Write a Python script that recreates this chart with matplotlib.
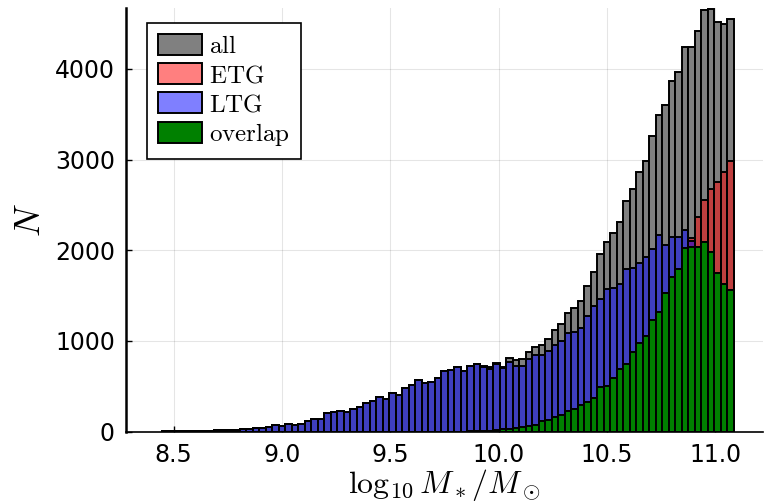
import numpy as np
import matplotlib.pyplot as plt

plt.rcParams['mathtext.fontset'] = 'cm'

# histogram counts per bin (bins 0.03 wide, centred on 8.46 ... 11.07)
n_all = [1, 2, 2, 4, 5, 7, 9, 10, 12, 15, 18, 20, 24, 28, 34, 42, 45,
         72, 61, 83, 68, 83, 120, 142, 142, 200, 215, 230, 215, 252, 274, 311, 336,
         381, 362, 421, 403, 480, 513, 568, 532, 543, 590, 668, 675, 708, 664, 720, 745,
         720, 715, 753, 715, 815, 789, 797, 877, 936, 951, 1017, 1120, 1183, 1308,
         1360, 1440, 1609, 1764, 1959, 2095, 2187, 2316, 2544, 2680, 2857, 2986,
         3254, 3492, 3600, 3861, 3960, 4241, 4241, 4413, 4652, 4660, 4512, 4498, 4553]

n_ltg = [1, 2, 2, 4, 5, 7, 9, 10, 12, 15, 18, 20, 24, 28, 34, 42, 45,
         72, 61, 83, 68, 83, 120, 142, 142, 200, 215, 230, 215, 252, 274, 311, 336,
         381, 362, 421, 403, 480, 513, 568, 532, 543, 590, 668, 675, 708, 664, 720, 745,
         712, 690, 740, 697, 767, 723, 723, 804, 841, 841, 892, 951, 1002, 1082,
         1101, 1139, 1275, 1385, 1462, 1576, 1584, 1625, 1790, 1801, 1863, 1923,
         2014, 2166, 2058, 2143, 2143, 2224, 2103, 2040, 2088, 1978, 1746, 1625, 1562]

n_overlap = [0, 0, 0, 0, 0, 0, 0, 0, 0, 0, 0, 0, 0, 0, 0, 0, 0,
             0, 0, 0, 0, 0, 0, 0, 0, 0, 0, 0, 0, 0, 0, 0, 0,
             0, 0, 0, 0, 0, 0, 0, 0, 0, 0, 0, 0, 0, 0, 2, 4,
             6, 10, 15, 25, 30, 40, 55, 60, 75, 116, 123, 164, 178, 222,
             248, 292, 322, 373, 494, 506, 594, 686, 745, 881, 980, 1054,
             1231, 1322, 1532, 1709, 1797, 2022, 2040, 2040, 2088, 1978, 1746, 1625, 1562]

n_etg = [0, 0, 0, 0, 0, 0, 0, 0, 0, 0, 0, 0, 0, 0, 0, 0, 0,
         0, 0, 0, 0, 0, 0, 0, 0, 0, 0, 0, 0, 0, 0, 0, 0,
         0, 0, 0, 0, 0, 0, 0, 0, 0, 0, 0, 0, 0, 0, 2, 4,
         6, 10, 15, 25, 30, 40, 55, 60, 75, 116, 123, 164, 178, 222,
         248, 292, 322, 373, 494, 506, 594, 686, 745, 881, 980, 1054,
         1231, 1322, 1532, 1709, 1797, 2022, 2139, 2371, 2555, 2673, 2757, 2864, 2986]

bin_width = 0.03
centers = np.round(8.46 + bin_width * np.arange(len(n_all)), 3)

fig, ax = plt.subplots(figsize=(7.64, 5.03), dpi=100)
fig.subplots_adjust(left=0.165, right=0.9987, bottom=0.142, top=0.984)

kw = dict(width=bin_width, edgecolor='black', linewidth=1.4)
ax.bar(centers, n_all, color='gray', label=r'$\mathrm{all}$', **kw)
ax.bar(centers, n_etg, color=(1, 0, 0, 0.5), label=r'$\mathrm{ETG}$', **kw)
ax.bar(centers, n_ltg, color=(0, 0, 1, 0.5), label=r'$\mathrm{LTG}$', **kw)
ax.bar(centers, n_overlap, color='green', label=r'$\mathrm{overlap}$', **kw)

ax.set_xlim(8.28, 11.22)
ax.set_ylim(0, 4670)
ax.set_xticks([8.5, 9.0, 9.5, 10.0, 10.5, 11.0])
ax.set_xticklabels(['8.5', '9.0', '9.5', '10.0', '10.5', '11.0'])
ax.set_yticks([0, 1000, 2000, 3000, 4000])

ax.set_axisbelow(True)
ax.grid(True, color='black', alpha=0.1, linewidth=0.8)
ax.spines['top'].set_visible(False)
ax.spines['right'].set_visible(False)
ax.spines['left'].set_linewidth(1.8)
ax.spines['bottom'].set_linewidth(1.2)
ax.tick_params(direction='in', length=4, width=1, labelsize=17, pad=8)

ax.set_xlabel(r'$\log_{10} M_*/M_\odot$', fontsize=23, labelpad=0)
ax.set_ylabel(r'$N$', fontsize=26, labelpad=6)

leg = ax.legend(loc='upper left', bbox_to_anchor=(0.033, 0.965), borderaxespad=0,
                fontsize=18, fancybox=False, edgecolor='black', framealpha=1,
                handlelength=1.76, handleheight=0.88, handletextpad=0.27,
                labelspacing=0.2, borderpad=0.45)
leg.get_frame().set_linewidth(1.2)

fig.savefig('out.png', dpi=100)
